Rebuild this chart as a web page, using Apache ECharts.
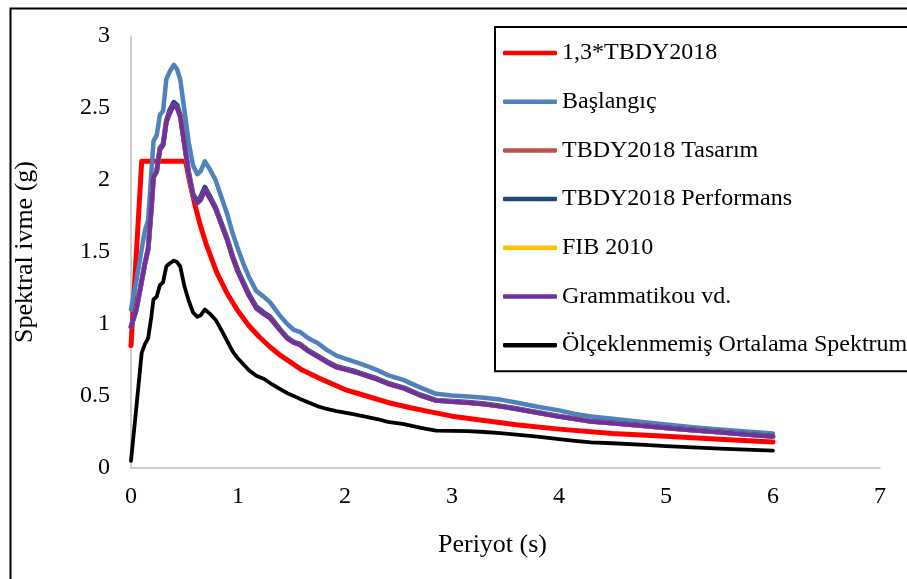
<!DOCTYPE html>
<html>
<head>
<meta charset="utf-8">
<script src="https://cdn.jsdelivr.net/npm/echarts@6/dist/echarts.min.js"></script>
<style>
  html, body { margin: 0; padding: 0; background: #fff; }
  #chart { width: 907px; height: 579px; }
</style>
</head>
<body>
<div id="chart"></div>
<script>
// Period grid (s) shared by the record-based spectra
const period = [0, 0.05, 0.1, 0.13, 0.16, 0.19, 0.21, 0.24, 0.27, 0.30,
  0.33, 0.36, 0.40, 0.43, 0.46, 0.50, 0.54, 0.58, 0.62, 0.65,
  0.69, 0.74, 0.79, 0.85, 0.90, 0.95, 1.00, 1.05, 1.10, 1.17,
  1.24, 1.30, 1.39, 1.46, 1.52, 1.58, 1.66, 1.74, 1.83, 1.92,
  2.00, 2.10, 2.20, 2.30, 2.40, 2.55, 2.70, 2.85, 3.00, 3.15,
  3.30, 3.45, 3.60, 3.80, 4.00, 4.15, 4.30, 4.50, 4.80, 5.00,
  5.25, 5.50, 5.75, 6.00];

// 1,3 x TBDY2018 design spectrum (own period points)
const tbdyPeriod = [0, 0.1, 0.51, 0.55, 0.6, 0.65, 0.7, 0.8, 0.9, 1.0,
  1.1, 1.2, 1.3, 1.4, 1.5, 1.6, 1.8, 2.0, 2.2, 2.4,
  2.6, 2.8, 3.0, 3.3, 3.6, 4.0, 4.5, 5.0, 5.5, 6.0];
const tbdy13 = [0.85, 2.13, 2.13, 1.98, 1.82, 1.68, 1.56, 1.36, 1.21, 1.09,
  0.99, 0.91, 0.84, 0.78, 0.73, 0.68, 0.61, 0.545, 0.50, 0.455,
  0.42, 0.39, 0.36, 0.33, 0.30, 0.27, 0.24, 0.22, 0.20, 0.18];

const baslangic = [1.10, 1.30, 1.52, 1.65, 1.72, 2.05, 2.27, 2.31, 2.45, 2.48,
  2.70, 2.75, 2.80, 2.77, 2.70, 2.48, 2.26, 2.10, 2.04, 2.06,
  2.13, 2.07, 2.00, 1.87, 1.76, 1.63, 1.52, 1.42, 1.33, 1.23,
  1.19, 1.15, 1.06, 1.00, 0.96, 0.945, 0.90, 0.87, 0.82, 0.78,
  0.76, 0.735, 0.71, 0.68, 0.645, 0.61, 0.56, 0.515, 0.503, 0.497,
  0.488, 0.475, 0.455, 0.425, 0.40, 0.375, 0.358, 0.342, 0.317, 0.302,
  0.283, 0.268, 0.253, 0.24];

const tasarim = [0.98, 1.10, 1.30, 1.42, 1.52, 1.80, 2.02, 2.06, 2.21, 2.24,
  2.40, 2.46, 2.52, 2.50, 2.44, 2.24, 2.04, 1.89, 1.84, 1.86,
  1.93, 1.87, 1.80, 1.68, 1.58, 1.46, 1.36, 1.28, 1.20, 1.11,
  1.07, 1.04, 0.96, 0.90, 0.87, 0.855, 0.81, 0.775, 0.735, 0.70,
  0.685, 0.665, 0.64, 0.615, 0.585, 0.553, 0.505, 0.468, 0.46, 0.453,
  0.443, 0.428, 0.41, 0.384, 0.357, 0.34, 0.322, 0.31, 0.292, 0.278,
  0.262, 0.248, 0.232, 0.218];

const performans = [0.98, 1.10, 1.30, 1.42, 1.52, 1.80, 2.02, 2.06, 2.22, 2.25,
  2.41, 2.48, 2.54, 2.52, 2.45, 2.25, 2.05, 1.90, 1.85, 1.88,
  1.95, 1.88, 1.81, 1.69, 1.59, 1.47, 1.37, 1.29, 1.21, 1.12,
  1.08, 1.05, 0.965, 0.905, 0.875, 0.86, 0.815, 0.78, 0.74, 0.705,
  0.69, 0.67, 0.645, 0.62, 0.59, 0.557, 0.509, 0.471, 0.463, 0.456,
  0.446, 0.431, 0.413, 0.386, 0.359, 0.342, 0.324, 0.312, 0.294, 0.28,
  0.264, 0.25, 0.234, 0.22];

const fib2010 = [0.98, 1.10, 1.30, 1.42, 1.52, 1.80, 2.02, 2.06, 2.21, 2.24,
  2.40, 2.46, 2.52, 2.50, 2.44, 2.24, 2.04, 1.89, 1.84, 1.86,
  1.93, 1.87, 1.80, 1.68, 1.58, 1.46, 1.36, 1.28, 1.20, 1.11,
  1.07, 1.04, 0.96, 0.90, 0.87, 0.855, 0.81, 0.775, 0.735, 0.70,
  0.685, 0.665, 0.64, 0.615, 0.585, 0.553, 0.505, 0.468, 0.46, 0.453,
  0.443, 0.428, 0.41, 0.384, 0.357, 0.34, 0.322, 0.31, 0.292, 0.278,
  0.262, 0.248, 0.232, 0.218];

const grammatikou = [0.98, 1.10, 1.30, 1.42, 1.52, 1.80, 2.02, 2.06, 2.21, 2.24,
  2.40, 2.46, 2.52, 2.50, 2.44, 2.24, 2.04, 1.89, 1.84, 1.86,
  1.93, 1.87, 1.80, 1.68, 1.58, 1.46, 1.36, 1.28, 1.20, 1.11,
  1.07, 1.04, 0.96, 0.90, 0.87, 0.855, 0.81, 0.775, 0.735, 0.70,
  0.685, 0.665, 0.64, 0.615, 0.585, 0.553, 0.505, 0.468, 0.46, 0.453,
  0.443, 0.428, 0.41, 0.384, 0.357, 0.34, 0.322, 0.31, 0.292, 0.278,
  0.262, 0.248, 0.232, 0.218];

const olceklenmemis = [0.05, 0.42, 0.80, 0.86, 0.90, 1.05, 1.17, 1.19, 1.27, 1.29,
  1.40, 1.42, 1.44, 1.43, 1.40, 1.26, 1.16, 1.08, 1.05, 1.06,
  1.10, 1.07, 1.03, 0.95, 0.88, 0.81, 0.76, 0.72, 0.68, 0.64,
  0.62, 0.59, 0.55, 0.52, 0.50, 0.48, 0.455, 0.43, 0.41, 0.395,
  0.385, 0.37, 0.355, 0.34, 0.32, 0.305, 0.28, 0.26, 0.258, 0.256,
  0.25, 0.242, 0.232, 0.218, 0.20, 0.188, 0.178, 0.172, 0.16, 0.152,
  0.143, 0.135, 0.128, 0.12];

const seriesNames = ['1,3*TBDY2018', 'Başlangıç', 'TBDY2018 Tasarım',
  'TBDY2018 Performans', 'FIB 2010', 'Grammatikou vd.', 'Ölçeklenmemiş Ortalama Spektrum'];
const seriesColors = ['#FF0000', '#4F81BD', '#C0504D', '#1F497D', '#FFC000', '#7030A0', '#000000'];
const seriesWidths = [5, 4.5, 4.5, 5, 4.5, 4.5, 3.8];

const xTicks = { min: 0, max: 7, step: 1 };
const yTicks = { min: 0, max: 3, step: 0.5 };

const FONT = 'Liberation Serif';

function pairs(xs, ys) {
  return xs.map((x, i) => [x, ys[i]]);
}

const seriesData = [
  pairs(tbdyPeriod, tbdy13),
  pairs(period, baslangic),
  pairs(period, tasarim),
  pairs(period, performans),
  pairs(period, fib2010),
  pairs(period, grammatikou),
  pairs(period, olceklenmemis)
];

const chart = echarts.init(document.getElementById('chart'), null, { renderer: 'canvas' });

chart.setOption({
  animation: false,
  backgroundColor: '#ffffff',
  textStyle: { fontFamily: FONT, color: '#000' },
  grid: { left: 131, right: 27, top: 36, bottom: 111, containLabel: false, outerBoundsMode: 'none' },
  xAxis: {
    type: 'value',
    min: xTicks.min, max: xTicks.max, interval: xTicks.step,
    name: 'Periyot (s)',
    nameLocation: 'middle',
    nameGap: 64,
    nameTextStyle: { fontFamily: FONT, fontSize: 26, color: '#000', padding: [0, 26, 0, 0] },
    axisLine: { show: true, lineStyle: { color: '#BFBFBF', width: 1.5 } },
    axisTick: { show: false },
    splitLine: { show: false },
    axisLabel: { fontFamily: FONT, fontSize: 24, color: '#000', margin: 17 }
  },
  yAxis: {
    type: 'value',
    min: yTicks.min, max: yTicks.max, interval: yTicks.step,
    name: 'Spektral ivme (g)',
    nameLocation: 'middle',
    nameGap: 93,
    nameRotate: 90,
    nameTextStyle: { fontFamily: FONT, fontSize: 26, color: '#000' },
    axisLine: { show: true, lineStyle: { color: '#BFBFBF', width: 1.5 } },
    axisTick: { show: false },
    splitLine: { show: false },
    axisLabel: { fontFamily: FONT, fontSize: 24, color: '#000', margin: 21 }
  },
  legend: {
    orient: 'vertical',
    left: 495,
    top: 27,
    padding: [14, 2, 14, 8],
    itemGap: 24.7,
    itemWidth: 54,
    itemHeight: 4.5,
    icon: 'roundRect',
    borderColor: '#000',
    borderWidth: 2,
    backgroundColor: '#fff',
    textStyle: { fontFamily: FONT, fontSize: 24, color: '#000', lineHeight: 24 },
    data: seriesNames
  },
  graphic: [{
    type: 'rect',
    left: 8, top: 6,
    shape: { x: 0, y: 0, width: 910, height: 590 },
    style: { fill: 'none', stroke: '#000', lineWidth: 2 },
    silent: true,
    z: -10
  }],
  series: seriesNames.map((name, i) => ({
    name: name,
    type: 'line',
    data: seriesData[i],
    showSymbol: false,
    symbol: 'none',
    smooth: false,
    color: seriesColors[i],
    lineStyle: { color: seriesColors[i], width: seriesWidths[i], cap: 'round', join: 'round' },
    z: 2 + i
  }))
});
</script>
</body>
</html>
